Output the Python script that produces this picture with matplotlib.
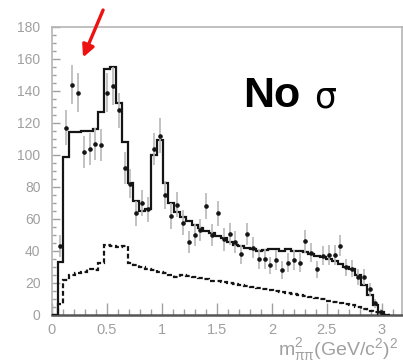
import matplotlib
matplotlib.use('Agg')
import matplotlib.pyplot as plt
from matplotlib.ticker import MultipleLocator
import numpy as np

# m^2(pi pi) spectrum, fixed bins of 0.053 GeV^2/c^4 starting at 0
BIN_W = 0.053

# fit without sigma (solid) and its background part (dashed), per bin
FIT_TOTAL = [0, 33, 99, 114.5, 114.5, 115, 115, 116, 127, 154,
             155, 132.5, 108, 82.5, 71, 65, 66.5, 100, 109.5, 82.5,
             70, 64.5, 61, 58.5, 56.5, 54.5, 52.5, 51, 49.5, 48,
             45.5, 44, 43, 42, 41, 40, 40.5, 41, 41, 40,
             41, 40, 40, 39.5, 38, 37, 36, 35, 33.5, 32,
             30, 28.5, 25, 19, 12.5, 6, 2, 0]
FIT_BKG = [0, 7, 22, 25, 26.5, 27, 29, 28, 32.5, 43.5,
           43, 42.5, 43, 32.5, 31, 30, 29, 28, 27, 26,
           25, 24, 25, 24.5, 23.5, 23, 22.5, 21.5, 21, 20.5,
           20, 19.5, 18.7, 18.2, 17.7, 17, 16.5, 15.6, 15, 14.6,
           14, 13.2, 12.7, 12, 11.3, 10.5, 9.8, 9, 8.3, 7.7,
           7, 6, 4.8, 3.8, 2.8, 1.6, 0.5, 0]

# measured events, bins 1..56
DATA_Y = [43, 117, 144, 139, 102, 103.5, 107, 106, 139, 143,
          128, 92, 82, 63.5, 70, 66, 103.5, 112, 75, 62,
          69, 57.7, 45.8, 50, 53, 68, 50, 63.5, 47.3, 50.6,
          45.8, 38, 50.6, 42, 35, 35, 31, 34.4, 28, 32.7,
          34.4, 32.7, 46, 39, 28.5, 37, 37.5, 37.5, 43.3, 29.8,
          29, 24, 23.5, 16, 7.3, 2]
DATA_ERR = [7, 11, 12, 12, 10, 10, 10, 10, 12, 12,
            11, 10, 9, 8, 8, 8, 10, 11, 9, 8,
            8, 8, 7, 7, 7, 8, 7, 8, 7, 7,
            7, 6, 7, 6.5, 6, 6, 5.5, 6, 5.5, 6,
            6, 6, 7, 6, 5.5, 6, 6, 6, 6.5, 5.5,
            5.5, 5, 5, 4, 3, 1.5]

GRAY = '#a0a0a0'

edges = np.arange(len(FIT_TOTAL) + 1) * BIN_W
centers = edges[:-1] + BIN_W / 2
data_x = centers[1:1 + len(DATA_Y)]

plt.rcParams['font.family'] = ['Liberation Sans Narrow', 'Liberation Sans', 'DejaVu Sans']

fig = plt.figure(figsize=(4.03, 3.63), dpi=100)
ax = fig.add_axes([51.7 / 403, 48 / 363, 350 / 403, 288 / 363])

ax.stairs(FIT_TOTAL, edges, color='#151515', lw=1.6, zorder=3)
ax.stairs(FIT_BKG, edges, color='#151515', lw=1.6, ls=(0, (2.2, 1.2)), zorder=3)
ax.errorbar(data_x, DATA_Y, yerr=DATA_ERR, fmt='o', ms=2.3, color='#151515',
            ecolor='#b8b8b8', elinewidth=1.2, capsize=0, zorder=4)

ax.set_xlim(0, 3.18)
ax.set_ylim(0, 180)
ax.xaxis.set_major_locator(MultipleLocator(0.5))
ax.xaxis.set_minor_locator(MultipleLocator(0.1))
ax.yaxis.set_major_locator(MultipleLocator(20))
ax.yaxis.set_minor_locator(MultipleLocator(5))
ax.xaxis.set_major_formatter(plt.FuncFormatter(lambda v, p: f'{v:g}'))

ax.tick_params(axis='x', which='major', direction='in', length=8.5, width=1,
               color=GRAY, labelcolor=GRAY, labelsize=10.5, pad=6)
ax.tick_params(axis='x', which='minor', direction='in', length=4.3, width=1, color=GRAY)
ax.tick_params(axis='y', which='major', direction='in', length=6, width=1,
               color=GRAY, labelcolor=GRAY, labelsize=10, pad=8)
ax.tick_params(axis='y', which='minor', direction='in', length=3, width=1, color=GRAY)

for side in ['top', 'right', 'left']:
    ax.spines[side].set_color('#b5b5b5')
    ax.spines[side].set_linewidth(1.2)
ax.spines['bottom'].set_color('#555555')
ax.spines['bottom'].set_linewidth(1.8)

# arrow pointing at the low-mass excess
ax.annotate('', xy=(0.285, 161), xytext=(0.467, 190.6),
            arrowprops=dict(arrowstyle='-|>', color='#ee1111', lw=2.4,
                            mutation_scale=18, shrinkA=0, shrinkB=0),
            annotation_clip=False)

fig.text(243 / 403, 1 - 107 / 363, 'No', ha='left', va='baseline',
         fontsize=31, weight='bold', family='Liberation Sans', color='black')
fig.text(314 / 403, 1 - 107 / 363, 'σ', ha='left', va='baseline',
         fontsize=25, family='DejaVu Sans', color='black')

fig.text(278 / 403, 1 - 355 / 363, r'$\mathregular{m^2_{\pi\pi}(GeV/c^2)^2}$',
         ha='left', va='baseline', fontsize=14, color=GRAY)

fig.savefig('out.png', dpi=100)
